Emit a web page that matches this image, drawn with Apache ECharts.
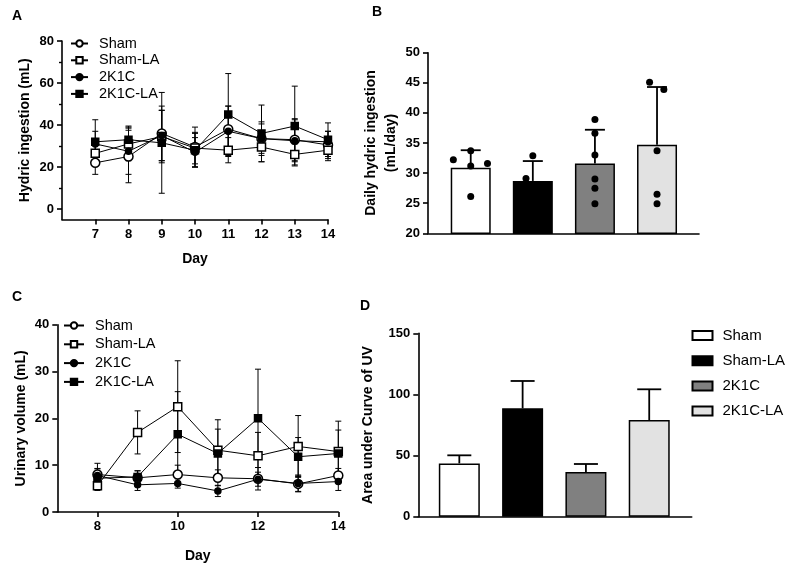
<!DOCTYPE html>
<html>
<head>
<meta charset="utf-8">
<script src="https://cdn.jsdelivr.net/npm/echarts@6/dist/echarts.min.js"></script>
<style>
  html, body { margin: 0; padding: 0; background: #fff; }
  #chart { width: 788px; height: 568px; }
</style>
</head>
<body>
<div id="chart"></div>
<script>
// ---- data ----
const groups = ['Sham', 'Sham-LA', '2K1C', '2K1C-LA'];

// A: hydric ingestion (mL), mean and SD per day
const daysA = [7, 8, 9, 10, 11, 12, 13, 14];
const hydricSham = [22, 25, 36, 29.5, 38, 33.5, 33, 30.5];
const hydricShamSd = [5.5, 12.5, 13, 9.5, 11, 7, 10, 6.5];
const hydricShamLA = [26.5, 31, 34.5, 29, 28, 29.5, 26, 28];
const hydricShamLASd = [5, 8, 12.5, 7.5, 6, 7, 5, 5];
const hydric2K1C = [31, 27.5, 35, 27, 37, 33.5, 32.5, 32];
const hydric2K1CSd = [6, 11, 12, 7, 12, 8, 10, 5];
const hydric2K1CLA = [32, 33, 31.5, 28, 45, 36, 39.5, 33];
const hydric2K1CLASd = [10.5, 6.5, 24, 8, 19.5, 13.5, 19, 8];

// B: daily hydric ingestion (mL/day)
const dailyMean = [30.9, 28.7, 31.6, 34.7];
const dailySd = [2.9, 3.3, 5.6, 9.6];
// individual animals: [value, jitter in category units]
const dailyDotsSham = [[32.2, -0.28], [33.7, 0], [31.2, 0], [31.6, 0.27], [26.1, 0]];
const dailyDotsShamLA = [[32.9, 0], [29.1, -0.11]];
const dailyDots2K1C = [[38.9, 0], [36.6, 0], [33.0, 0], [29.0, 0], [27.5, 0], [24.9, 0]];
const dailyDots2K1CLA = [[45.1, -0.12], [43.9, 0.11], [33.7, 0], [26.5, 0], [24.9, 0]];

// C: urinary volume (mL), mean and SD per day
const daysC = [8, 9, 10, 11, 12, 13, 14];
const urineSham = [8, 7.3, 8, 7.3, 7.1, 6, 7.8];
const urineShamSd = [2.4, 1.5, 2, 1.7, 2.4, 1.6, 1.5];
const urineShamLA = [5.6, 17, 22.5, 13.2, 12, 14, 12.9];
const urineShamLASd = [1, 4.6, 9.8, 6.5, 5, 6.6, 6.5];
const urine2K1C = [7.8, 5.8, 6.1, 4.5, 7, 6.1, 6.5];
const urine2K1CSd = [1.5, 1.2, 1, 1.2, 1.5, 1.8, 1.9];
const urine2K1CLA = [7.2, 7.5, 16.6, 12.5, 20, 11.8, 12.5];
const urine2K1CLASd = [2, 1.3, 9.1, 5.2, 10.5, 4.1, 5];

// D: area under curve of UV
const aucMean = [43.6, 88.6, 36.5, 79.1];
const aucSd = [6.6, 22.4, 6.6, 25.1];

// ---- styling ----
const font = '"Liberation Sans", Arial, sans-serif';
const barColors = ['#ffffff', '#000000', '#808080', '#e2e2e2'];
const markers = [
  { symbol: 'circle', size: 9, fill: '#fff' },
  { symbol: 'rect', size: 8, fill: '#fff' },
  { symbol: 'circle', size: 6, fill: '#000' },
  { symbol: 'rect', size: 7, fill: '#000' }
];

const axisLine = { show: true, onZero: false, lineStyle: { color: '#000', width: 1.6 } };
const axisTick = { show: true, length: 5, lineStyle: { color: '#000', width: 1.6 } };
const tickLabel = { color: '#000', fontSize: 13, fontWeight: 'bold', fontFamily: font, margin: 8 };
const nameStyle = { color: '#000', fontSize: 14, fontWeight: 'bold', fontFamily: font, lineHeight: 20 };
const legendText = { color: '#000', fontSize: 14.5, fontFamily: font, padding: [0, 0, 0, 6] };
const stripPrefix = (n) => n.slice(n.indexOf(':') + 1);

function errorBars(capHalf, both, lw) {
  return function (params, api) {
    const x = api.value(0), m = api.value(1), s = api.value(2);
    const top = api.coord([x, m + s]);
    const low = api.coord([x, both ? m - s : m]);
    const style = { stroke: '#000', lineWidth: lw };
    const kids = [
      { type: 'line', shape: { x1: top[0], y1: top[1], x2: low[0], y2: low[1] }, style },
      { type: 'line', shape: { x1: top[0] - capHalf, y1: top[1], x2: top[0] + capHalf, y2: top[1] }, style }
    ];
    if (both) {
      kids.push({ type: 'line', shape: { x1: low[0] - capHalf, y1: low[1], x2: low[0] + capHalf, y2: low[1] }, style });
    }
    return { type: 'group', children: kids };
  };
}

function timeSeries(prefix, axis, days, means, sds) {
  const out = [];
  means.forEach((vals, g) => {
    out.push({
      type: 'custom', xAxisIndex: axis, yAxisIndex: axis, z: 2, silent: true,
      renderItem: errorBars(3, true, 1),
      encode: { x: 0, y: 1 },
      data: days.map((d, i) => [d, vals[i], sds[g][i]])
    });
  });
  means.forEach((vals, g) => {
    const mk = markers[g];
    out.push({
      name: prefix + ':' + groups[g], type: 'line', xAxisIndex: axis, yAxisIndex: axis, z: 3 + g,
      symbol: mk.symbol, symbolSize: mk.size, showAllSymbol: true,
      itemStyle: { color: mk.fill, borderColor: '#000', borderWidth: 1.5 },
      lineStyle: { color: '#000', width: 1 },
      emphasis: { disabled: true },
      data: days.map((d, i) => [d, vals[i]])
    });
  });
  return out;
}

const hydricMeans = [hydricSham, hydricShamLA, hydric2K1C, hydric2K1CLA];
const hydricSds = [hydricShamSd, hydricShamLASd, hydric2K1CSd, hydric2K1CLASd];
const urineMeans = [urineSham, urineShamLA, urine2K1C, urine2K1CLA];
const urineSds = [urineShamSd, urineShamLASd, urine2K1CSd, urine2K1CLASd];
const dailyDots = [dailyDotsSham, dailyDotsShamLA, dailyDots2K1C, dailyDots2K1CLA];

const series = [].concat(
  timeSeries('A', 0, daysA, hydricMeans, hydricSds),
  timeSeries('C', 2, daysC, urineMeans, urineSds)
);

// B bars, error bars, dots
series.push({
  type: 'bar', xAxisIndex: 1, yAxisIndex: 1, barWidth: 40, z: 2, silent: true,
  data: dailyMean.map((v, i) => ({ value: [i, v], itemStyle: { color: barColors[i], borderColor: '#000', borderWidth: 1.5 } }))
});
series.push({
  type: 'custom', xAxisIndex: 1, yAxisIndex: 1, z: 1, silent: true,
  renderItem: errorBars(10, false, 1.8), encode: { x: 0, y: 1 },
  data: dailyMean.map((v, i) => [i, v, dailySd[i]])
});
series.push({
  type: 'scatter', xAxisIndex: 1, yAxisIndex: 1, z: 4, silent: true,
  symbolSize: 7, itemStyle: { color: '#000', opacity: 1 },
  data: [].concat(...dailyDots.map((pts, g) => pts.map((p) => [g + p[1], p[0]])))
});

// D bars (one series per group so they show in the legend), error bars
groups.forEach((g, i) => {
  series.push({
    name: 'D:' + g, type: 'bar', xAxisIndex: 3, yAxisIndex: 3, barWidth: 41, barGap: '-100%', z: 2,
    silent: true,
    itemStyle: { color: barColors[i], borderColor: '#000', borderWidth: 1.5 },
    data: [[i, aucMean[i]]]
  });
});
series.push({
  type: 'custom', xAxisIndex: 3, yAxisIndex: 3, z: 1, silent: true,
  renderItem: errorBars(12, false, 1.8), encode: { x: 0, y: 1 },
  data: aucMean.map((v, i) => [i, v, aucSd[i]])
});

const option = {
  animation: false,
  backgroundColor: '#fff',
  textStyle: { fontFamily: font },
  graphic: [
    { type: 'text', left: 12, top: 9, style: { text: 'A', font: 'bold 14px ' + font, fill: '#000' } },
    { type: 'text', left: 372, top: 5, style: { text: 'B', font: 'bold 14px ' + font, fill: '#000' } },
    { type: 'text', left: 12, top: 290, style: { text: 'C', font: 'bold 14px ' + font, fill: '#000' } },
    { type: 'text', left: 360, top: 299, style: { text: 'D', font: 'bold 14px ' + font, fill: '#000' } }
  ],
  grid: [
    { left: 62, top: 41, width: 266, height: 178.5, outerBoundsMode: 'none' },
    { left: 428, top: 52.7, width: 271, height: 180.6, outerBoundsMode: 'none' },
    { left: 57.3, top: 324.7, width: 281, height: 187.3, outerBoundsMode: 'none' },
    { left: 418.3, top: 333.3, width: 273.4, height: 183.4, outerBoundsMode: 'none' }
  ],
  legend: [
    {
      orient: 'vertical', left: 70, top: 36, padding: 0, itemWidth: 17, itemHeight: 8, itemGap: 1.8,
      selectedMode: false, data: groups.map((g) => 'A:' + g), formatter: stripPrefix, textStyle: legendText
    },
    {
      orient: 'vertical', left: 63, top: 318, padding: 0, itemWidth: 20, itemHeight: 8, itemGap: 3.8,
      selectedMode: false, data: groups.map((g) => 'C:' + g), formatter: stripPrefix, textStyle: legendText
    },
    {
      orient: 'vertical', left: 691.5, top: 328, padding: 0, itemWidth: 20, itemHeight: 9, itemGap: 10.2, icon: 'rect',
      selectedMode: false, data: groups.map((g) => 'D:' + g), formatter: stripPrefix,
      textStyle: Object.assign({}, legendText, { fontSize: 15, padding: [0, 0, 0, 5] })
    }
  ],
  xAxis: [
    {
      gridIndex: 0, type: 'value', min: 6, max: 14, axisLine,
      axisTick: Object.assign({}, axisTick, { customValues: daysA }),
      axisLabel: Object.assign({}, tickLabel, { customValues: daysA }),
      splitLine: { show: false }, name: 'Day', nameLocation: 'middle', nameGap: 30, nameTextStyle: nameStyle
    },
    {
      gridIndex: 1, type: 'value', min: -0.688, max: 3.676, axisLine,
      axisTick: { show: false }, axisLabel: { show: false }, splitLine: { show: false }
    },
    {
      gridIndex: 2, type: 'value', min: 7, max: 14, axisLine,
      axisTick: Object.assign({}, axisTick, { customValues: [8, 10, 12, 14] }),
      axisLabel: Object.assign({}, tickLabel, { customValues: [8, 10, 12, 14] }),
      splitLine: { show: false }, name: 'Day', nameLocation: 'middle', nameGap: 34, nameTextStyle: nameStyle
    },
    {
      gridIndex: 3, type: 'value', min: -0.648, max: 3.671, axisLine,
      axisTick: { show: false }, axisLabel: { show: false }, splitLine: { show: false }
    }
  ],
  yAxis: [
    {
      gridIndex: 0, type: 'value', min: -5, max: 80, axisLine,
      axisTick: Object.assign({}, axisTick, { customValues: [0, 20, 40, 60, 80] }),
      axisLabel: Object.assign({}, tickLabel, { customValues: [0, 20, 40, 60, 80] }),
      splitLine: { show: false },
      name: 'Hydric ingestion (mL)', nameLocation: 'middle', nameGap: 26, nameTextStyle: nameStyle
    },
    {
      gridIndex: 1, type: 'value', min: 20, max: 50, interval: 5, axisLine, axisTick,
      axisLabel: tickLabel, splitLine: { show: false },
      name: 'Daily hydric ingestion\n(mL/day)', nameLocation: 'middle', nameGap: 27, nameTextStyle: nameStyle
    },
    {
      gridIndex: 2, type: 'value', min: 0, max: 40, interval: 10, axisLine, axisTick,
      axisLabel: tickLabel, splitLine: { show: false },
      name: 'Urinary volume (mL)', nameLocation: 'middle', nameGap: 26, nameTextStyle: nameStyle
    },
    {
      gridIndex: 3, type: 'value', min: 0, max: 150, interval: 50, axisLine, axisTick,
      axisLabel: tickLabel, splitLine: { show: false },
      name: 'Area under Curve of UV', nameLocation: 'middle', nameGap: 40, nameTextStyle: nameStyle
    },
    {
      // minor ticks of panel A
      gridIndex: 0, type: 'value', position: 'left', min: -5, max: 80, axisLine: { show: false },
      axisTick: { show: true, length: 3, lineStyle: { color: '#000', width: 1.4 }, customValues: [10, 30, 50, 70] },
      axisLabel: { show: false }, splitLine: { show: false }
    }
  ],
  series
};

const chart = echarts.init(document.getElementById('chart'), null, { renderer: 'canvas' });
chart.setOption(option);
</script>
</body>
</html>
